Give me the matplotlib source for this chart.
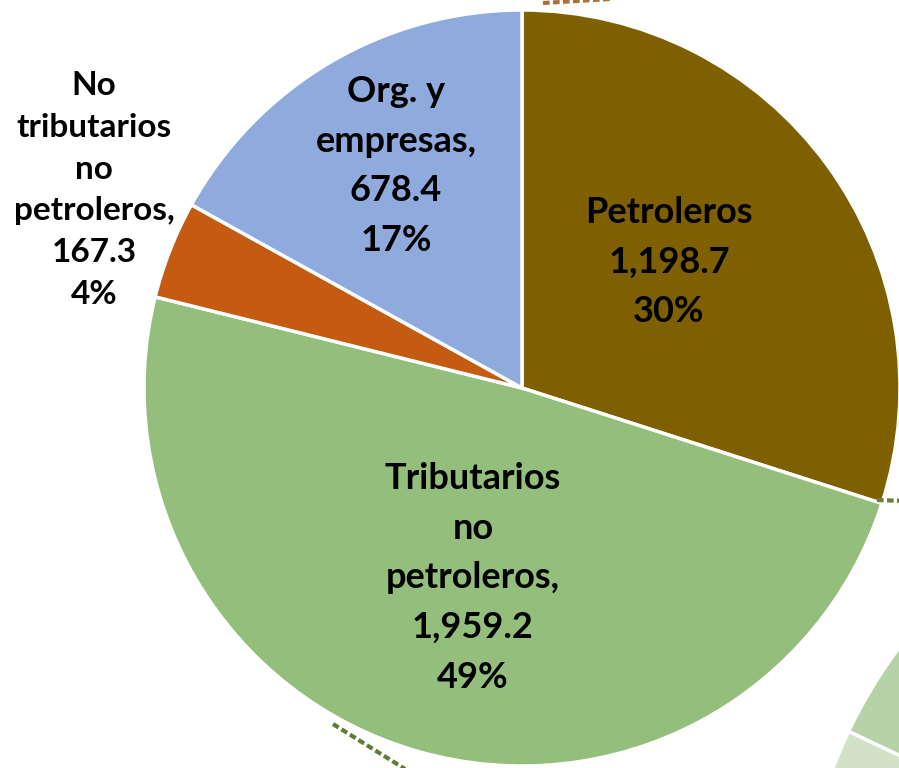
import matplotlib.pyplot as plt

# main pie data
names = ["Petroleros", "Tributarios\nno\npetroleros,", "No\ntributarios\nno\npetroleros,", "Org. y\nempresas,"]
values = [1198.7, 1959.2, 167.3, 678.4]
colors = ["#7F6000", "#93BE7C", "#C55A11", "#8FAADC"]

# second pie (only a sliver is visible in the crop)
sub_values = [12.4, 12.5, 75.1]
sub_colors = ["#B5D3A7", "#D1E2C6", "none"]

W, H = 899, 768
fig = plt.figure(figsize=(W/100, H/100), dpi=100)
ax = fig.add_axes([0, 0, 1, 1])

ax.pie(values, colors=colors, startangle=90, counterclock=False,
       center=(522, H-388), radius=378,
       wedgeprops=dict(edgecolor='white', linewidth=2.5))

ax.pie(sub_values, colors=sub_colors, startangle=110, counterclock=True,
       center=(1295, H-943), radius=494,
       wedgeprops=dict(edgecolor='white', linewidth=2.5))

# connector lines (dashed)
ax.plot([543, 610], [H-3, H+1], ls=(0, (1.6, 0.8)), color="#A8733A", lw=3)
ax.plot([333, 405], [H-724, H-769], ls=(0, (1.6, 0.8)), color="#5E7C36", lw=3)
ax.plot([877, 905], [H-500, H-501], ls=(0, (1.6, 0.8)), color="#6E7B3C", lw=3)

total = sum(values)
label_pos = [(669, H-262), (473, H-578), (94, H-190), (396, H-166)]
for i, (n, v) in enumerate(zip(names, values)):
    txt = n + "\n" + "{:,.1f}".format(v) + "\n" + "%d%%" % round(v/total*100)
    inside = i != 2
    ax.text(label_pos[i][0], label_pos[i][1], txt, ha='center', va='center',
            multialignment='center', fontfamily='Lato', fontweight='bold',
            fontsize=26 if inside else 24, linespacing=1.62 if inside else 1.53,
            color='black')

ax.set_xlim(0, W)
ax.set_ylim(0, H)
ax.set_aspect('equal')
ax.axis('off')
fig.savefig("out.png", dpi=100)
